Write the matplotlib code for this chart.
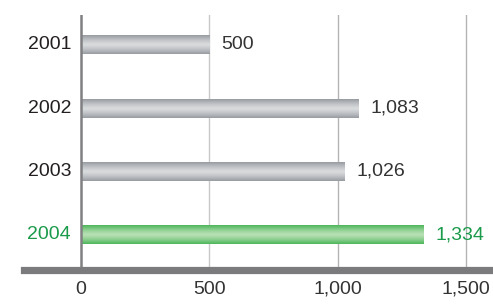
import numpy as np
import matplotlib
matplotlib.use("Agg")
import matplotlib.pyplot as plt
from matplotlib.colors import LinearSegmentedColormap

years = ["2001", "2002", "2003", "2004"]
values = [500, 1083, 1026, 1334]
value_labels = ["500", "1,083", "1,026", "1,334"]
highlight = [False, False, False, True]
xticks = [0, 500, 1000, 1500]
xtick_labels = ["0", "500", "1,000", "1,500"]

plt.rcParams['font.family'] = ['Liberation Sans', 'DejaVu Sans']

W, H = 493, 304
fig = plt.figure(figsize=(W / 100, H / 100), dpi=100)
left_px, right_px, top_px, bot_px = 24, 493, 15, 269.5
ax = fig.add_axes([left_px / W, 1 - bot_px / H, (right_px - left_px) / W, (bot_px - top_px) / H])

px_per_unit = (466 - 81) / 1500.0
xmin = (left_px - 81) / px_per_unit
xmax = (right_px - 81) / px_per_unit

gray_cmap = LinearSegmentedColormap.from_list("g", ["#999da2", "#d8dadc"])
green_cmap = LinearSegmentedColormap.from_list("gr", ["#4fb65c", "#b6e0b3"])

t = np.linspace(-1, 1, 40)
prof = (1 - np.abs(t) ** 1.3)[:, None]
bar_h = 0.30
fs = 14

for gx in xticks[1:]:
    ax.axvline(gx, color="#c8c8c8" if gx == 500 else "#b4b4b4", lw=1.0, zorder=1)
ax.axvline(0, color="#808082", lw=1.8, zorder=4)

for i, (v, lab, hl) in enumerate(zip(values, value_labels, highlight)):
    cmap = green_cmap if hl else gray_cmap
    ax.imshow(prof, cmap=cmap, aspect="auto", interpolation="bilinear",
              extent=[0, v, i + bar_h / 2, i - bar_h / 2], zorder=3)
    ax.text(v + 12 / px_per_unit, i, lab, va="center", ha="left", fontsize=fs,
            color="#1a9a4a" if hl else "#333333")
ax.set_ylim(3.55, -0.47)
ax.set_xlim(xmin, xmax)

ax.set_yticks(range(len(years)))
ax.set_yticklabels([])
for i, (y, hl) in enumerate(zip(years, highlight)):
    ax.text(-10 / px_per_unit, i, y, ha="right", va="center", fontsize=fs,
            color="#1a9a4a" if hl else "#231f20")
ax.tick_params(axis="y", length=0)

ax.set_xticks(xticks)
ax.set_xticklabels(xtick_labels, fontsize=fs, color="#333333")
ax.tick_params(axis="x", length=0, pad=8)

for s in ["top", "left", "right"]:
    ax.spines[s].set_visible(False)
ax.spines["bottom"].set_color("#7b7b7d")
ax.spines["bottom"].set_linewidth(5.2)
ax.spines["bottom"].set_zorder(5)
ax.patch.set_alpha(0)

fig.savefig("out.png", dpi=100)
